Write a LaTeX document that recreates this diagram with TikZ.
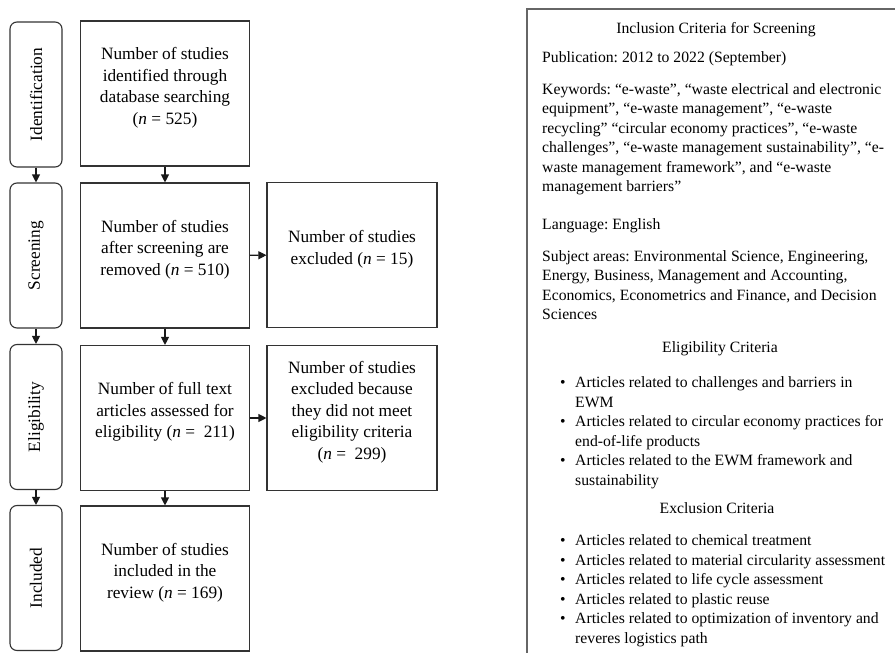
\documentclass[tikz,border=0pt]{standalone}
\usepackage{fontspec}
\usepackage{graphicx}
\setmainfont{Liberation Serif}
\usetikzlibrary{arrows.meta}
\frenchspacing

\begin{document}
\begin{tikzpicture}[x=1pt,y=-1pt,
    stagebox/.style={draw=black!80,line width=1.1pt,rounded corners=7pt,
      minimum width=52pt,minimum height=145pt,inner sep=0pt,
      font=\fontsize{17.3}{21.5}\selectfont},
    flowbox/.style={draw=black!80,line width=1.1pt,minimum width=169pt,
      minimum height=145pt,inner sep=2pt,
      font=\fontsize{17.3}{21.5}\selectfont},
    flowarrow/.style={-{Triangle[length=8pt,width=8pt]},line width=1.1pt,black!90},
    crittext/.style={anchor=north west,inner sep=0pt,align=left,
      font=\fontsize{15.7}{19.5}\selectfont},
    crithead/.style={inner sep=0pt,font=\fontsize{15.7}{19.5}\selectfont}]
  \useasboundingbox (0,0) rectangle (895,653);
  \pgfmathsetmacro{\stagex}{36}
  \pgfmathsetmacro{\flowx}{165}
  \pgfmathsetmacro{\outx}{352}
  \pgfmathsetmacro{\bulletx}{560}
  % box text sits a little above the middle
  \def\boxtext#1{\raisebox{6pt}[\height][\depth]{\begin{tabular}{@{}c@{}}#1\end{tabular}}}

  % Draw stage labels
  \node[stagebox] (idstage)  at (\stagex,94.5) {\rotatebox{90}{Identification}};
  \node[stagebox] (scrstage) at (\stagex,255.5) {\rotatebox{90}{Screening}};
  \node[stagebox] (elistage) at (\stagex,417) {\rotatebox{90}{Eligibility}};
  \node[stagebox] (incstage) at (\stagex,578) {\rotatebox{90}{Included}};

  % Draw main flow
  \node[flowbox] (search)   at (\flowx,93.5)
    {\boxtext{Number of studies\\identified through\\database searching\\(\textit{n} = 525)}};
  \node[flowbox] (screened) at (\flowx,255.5)
    {\boxtext{Number of studies\\after screening are\\removed (\textit{n} = 510)}};
  \node[flowbox] (fulltext) at (\flowx,418)
    {\boxtext{Number of full text\\articles assessed for\\eligibility (\textit{n} =\ \ 211)}};
  \node[flowbox] (included) at (\flowx,578.5)
    {\boxtext{Number of studies\\included in the\\review (\textit{n} = 169)}};

  % Draw excluded records
  \node[flowbox,minimum width=170pt] (excluded) at (\outx,255)
    {\boxtext{Number of studies\\excluded (\textit{n} = 15)}};
  \node[flowbox,minimum width=170pt] (ineligible) at (\outx,418)
    {\boxtext{Number of studies\\excluded because\\they did not meet\\eligibility criteria\\(\textit{n} =\ \ 299)}};

  % Draw arrows
  \draw[flowarrow] (idstage) -- (scrstage);
  \draw[flowarrow] (scrstage) -- (elistage);
  \draw[flowarrow] (elistage) -- (incstage);
  \draw[flowarrow] (search) -- (screened);
  \draw[flowarrow] (screened) -- (fulltext);
  \draw[flowarrow] (fulltext) -- (included);
  \draw[flowarrow] (screened) -- (excluded);
  \draw[flowarrow] (fulltext) -- (ineligible);

  % Draw criteria panel
  \draw[black!60,line width=1.8pt] (527,653) -- (527,9) -- (895,9);

  \node[crithead] (inchead) at (716,29.5) {Inclusion Criteria for Screening};
  \node[crittext] (pub) at (542,51.5) {Publication: 2012 to 2022 (September)};
  \node[crittext] (keywords) at (542,83)
    {Keywords: “e-waste”, “waste electrical and electronic\\
     equipment”, “e-waste management”, “e-waste\\
     recycling” “circular economy practices”, “e-waste\\
     challenges”, “e-waste management sustainability”, “e-\\
     waste management framework”, and “e-waste\\
     management barriers”};
  \node[crittext] (language) at (542,218.5) {Language: English};
  \node[crittext] (subject) at (542,250)
    {Subject areas: Environmental Science, Engineering,\\
     Energy, Business, Management and Accounting,\\
     Economics, Econometrics and Finance, and Decision\\
     Sciences};

  \node[crithead] (elihead) at (720,348.5) {Eligibility Criteria};
  \node[crittext] (elilist) at (\bulletx,374)
    {\begin{tabular}{@{}p{15pt}@{}l@{}}
       \textbullet & Articles related to challenges and barriers in\\
                   & EWM\\
       \textbullet & Articles related to circular economy practices for\\
                   & end-of-life products\\
       \textbullet & Articles related to the EWM framework and\\
                   & sustainability
     \end{tabular}};

  \node[crithead] (exchead) at (717,508) {Exclusion Criteria};
  \node[crittext] (exclist) at (\bulletx,532)
    {\begin{tabular}{@{}p{15pt}@{}l@{}}
       \textbullet & Articles related to chemical treatment\\
       \textbullet & Articles related to material circularity assessment\\
       \textbullet & Articles related to life cycle assessment\\
       \textbullet & Articles related to plastic reuse\\
       \textbullet & Articles related to optimization of inventory and\\
                   & reveres logistics path
     \end{tabular}};
\end{tikzpicture}
\end{document}
